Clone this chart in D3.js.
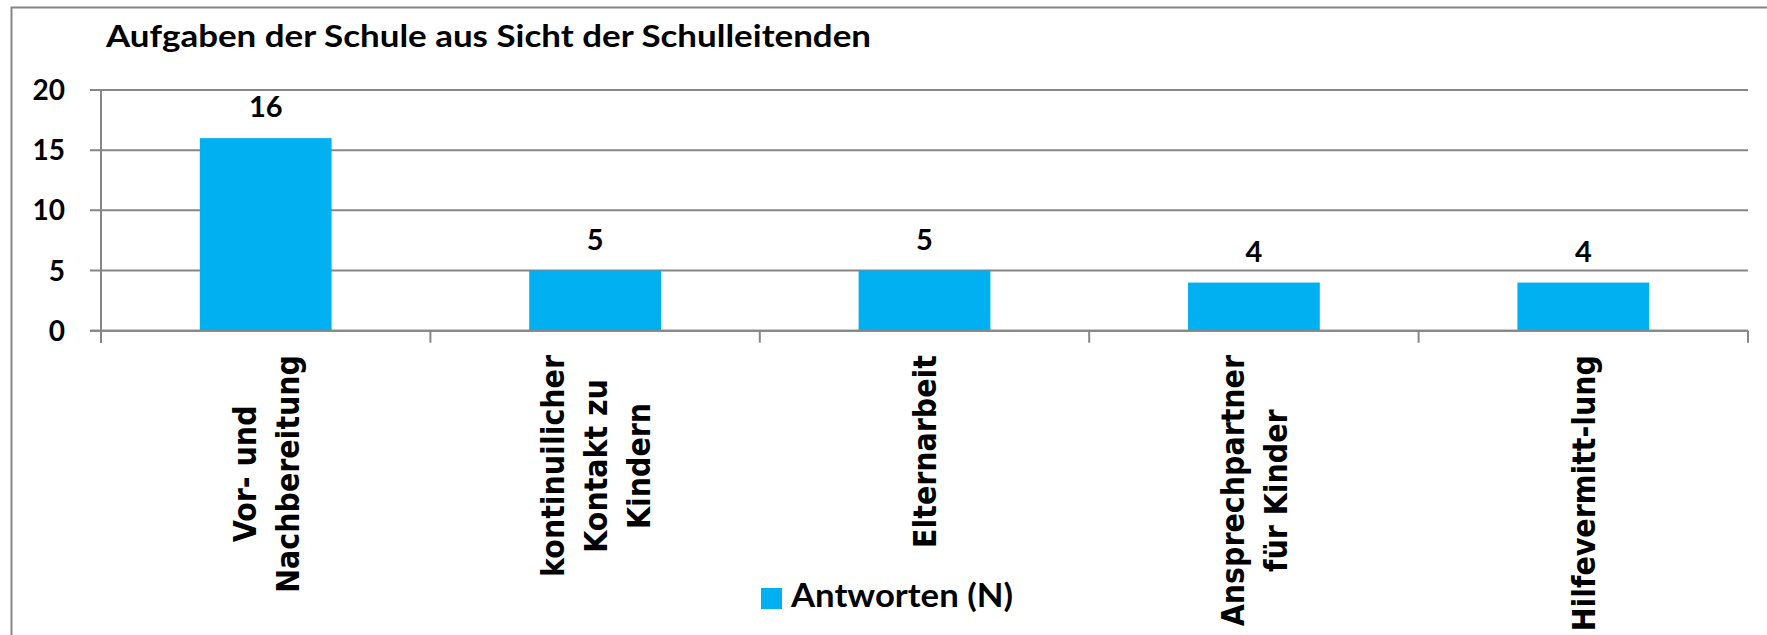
<!DOCTYPE html>
<html>
<head>
<meta charset="utf-8">
<script src="https://cdn.jsdelivr.net/npm/d3@7"></script>
<style>
  body { margin: 0; background: #fff; overflow: hidden; }
  text { fill: #000; }
</style>
</head>
<body>
<script>
var svgWidth = 1767;
var svgHeight = 635;

// data
var chartTitle = "Aufgaben der Schule aus Sicht der Schulleitenden";
var seriesName = "Antworten (N)";
var categories = ["Vor- und Nachbereitung", "kontinuilicher Kontakt zu Kindern", "Elternarbeit", "Ansprechpartner für Kinder", "Hilfevermitt-lung"];
var categoryLines = [["Vor- und", "Nachbereitung"], ["kontinuilicher", "Kontakt zu", "Kindern"], ["Elternarbeit"], ["Ansprechpartner", "für Kinder"], ["Hilfevermitt-lung"]];
var values = [16, 5, 5, 4, 4];
var yTicks = [0, 5, 10, 15, 20];

var plot = { left: 101, right: 1748, top: 90, bottom: 330.7 };
var barColor = "#00B0F0";
var lineColor = "#868686";

var svg = d3.select("body")
    .append("svg")
    .attr("width", svgWidth)
    .attr("height", svgHeight);

// outer chart frame (right and bottom edges fall outside the picture)
svg.append("rect")
    .attr("x", 11.5)
    .attr("y", 7.5)
    .attr("width", 1800)
    .attr("height", 700)
    .attr("fill", "none")
    .attr("stroke", lineColor)
    .attr("stroke-width", 2);

svg.append("text")
    .attr("x", 106)
    .attr("y", 46.5)
    .attr("textLength", 765)
    .attr("lengthAdjust", "spacingAndGlyphs")
    .style("font-family", "Lato")
    .style("font-weight", "bold")
    .style("font-size", "30px")
    .text(chartTitle);

var xCat = d3.scaleBand()
    .domain(categories)
    .range([plot.left, plot.right])
    .padding(0);

var xBar = d3.scaleBand()
    .domain(categories)
    .range([plot.left, plot.right])
    .paddingInner(0.6)
    .paddingOuter(0.3);

var yLinearScale = d3.scaleLinear()
    .domain([0, 20])
    .range([plot.bottom, plot.top]);

// gridlines + y ticks
svg.append("g")
    .selectAll("line")
    .data(yTicks)
    .enter()
    .append("line")
    .attr("x1", 90)
    .attr("x2", plot.right)
    .attr("y1", d => yLinearScale(d))
    .attr("y2", d => yLinearScale(d))
    .attr("stroke", lineColor)
    .attr("stroke-width", 2);

svg.append("g")
    .selectAll("text")
    .data(yTicks)
    .enter()
    .append("text")
    .attr("x", 65)
    .attr("y", d => yLinearScale(d))
    .attr("dy", "0.36em")
    .attr("text-anchor", "end")
    .style("font-family", "Lato")
    .style("font-weight", "bold")
    .style("font-size", "28px")
    .text(d => d);

// y axis line
svg.append("line")
    .attr("x1", plot.left)
    .attr("x2", plot.left)
    .attr("y1", plot.top)
    .attr("y2", plot.bottom + 12)
    .attr("stroke", lineColor)
    .attr("stroke-width", 2);

// category tick marks at band edges
var edges = categories.map(c => xCat(c)).concat([plot.right]);
svg.append("g")
    .selectAll("line")
    .data(edges)
    .enter()
    .append("line")
    .attr("x1", d => d)
    .attr("x2", d => d)
    .attr("y1", plot.bottom)
    .attr("y2", plot.bottom + 12)
    .attr("stroke", lineColor)
    .attr("stroke-width", 2);

// bars
svg.append("g")
    .selectAll(".bar")
    .data(values)
    .enter()
    .append("rect")
    .attr("class", "bar")
    .attr("x", (d, i) => xBar(categories[i]))
    .attr("y", d => yLinearScale(d))
    .attr("width", xBar.bandwidth())
    .attr("height", d => plot.bottom - yLinearScale(d))
    .attr("fill", barColor);

// redraw baseline over bars
svg.append("line")
    .attr("x1", 90)
    .attr("x2", plot.right)
    .attr("y1", plot.bottom)
    .attr("y2", plot.bottom)
    .attr("stroke", lineColor)
    .attr("stroke-width", 2);

// value labels
svg.append("g")
    .selectAll("text")
    .data(values)
    .enter()
    .append("text")
    .attr("x", (d, i) => xBar(categories[i]) + xBar.bandwidth() / 2)
    .attr("y", d => yLinearScale(d) - 21)
    .attr("text-anchor", "middle")
    .style("font-family", "Lato")
    .style("font-weight", "bold")
    .style("font-size", "29px")
    .text(d => d);

// rotated category labels, lines centred on the longest one
var labelTop = 355;
var lineGap = 43;
var capH = 23;
categories.forEach(function (c, i) {
    var lines = categoryLines[i];
    var cx = xCat(c) + xCat.bandwidth() / 2;
    var g = svg.append("g");
    var texts = lines.map(function (ln) {
        return g.append("text")
            .attr("text-anchor", "middle")
            .style("font-family", "DejaVu Sans")
            .style("font-weight", "bold")
            .style("font-size", "28.5px")
            .text(ln);
    });
    var maxLen = d3.max(texts, t => t.node().getComputedTextLength());
    var cy = labelTop + maxLen / 2;
    texts.forEach(function (t, j) {
        var bx = cx + (j - (lines.length - 1) / 2) * lineGap + capH / 2;
        t.attr("transform", `translate(${bx}, ${cy}) rotate(-90) scale(1, 1.12)`);
    });
});

// legend
svg.append("rect")
    .attr("x", 761)
    .attr("y", 588)
    .attr("width", 21)
    .attr("height", 21)
    .attr("fill", barColor);

svg.append("text")
    .attr("x", 791)
    .attr("y", 606.5)
    .attr("textLength", 222)
    .attr("lengthAdjust", "spacingAndGlyphs")
    .style("font-family", "Lato")
    .style("font-weight", "bold")
    .style("font-size", "32px")
    .text(seriesName);
</script>
</body>
</html>
